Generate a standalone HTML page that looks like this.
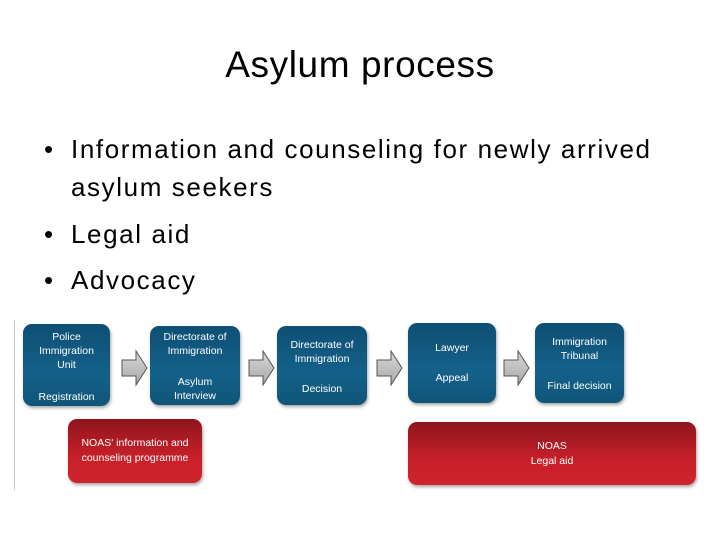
<!DOCTYPE html>
<html><head><style>
body{margin:0;width:720px;height:540px;background:#fff;position:relative;overflow:hidden;font-family:"Liberation Sans",sans-serif}
.t{position:absolute;left:0;width:720px;top:44px;text-align:center;font-size:37px;color:#000;letter-spacing:0.6px}
.b{position:absolute;left:71px;font-size:26px;color:#000;white-space:nowrap;letter-spacing:1.6px}
.dot{position:absolute;left:44px;font-size:26px}
.bx{position:absolute;border-radius:9px;background:linear-gradient(#0e4f74,#14618a 60%,#0f5578);color:#fff;font-size:10.5px;text-align:center;line-height:14px;box-shadow:1px 2px 3px rgba(0,0,0,.35)}
.bx div{position:absolute;left:0;right:0}
.r{position:absolute;border-radius:9px;background:linear-gradient(#8e151d,#c8202a 60%,#d0232c);color:#fff;font-size:10.5px;text-align:center;line-height:15px;box-shadow:1px 2px 3px rgba(0,0,0,.35)}
svg{position:absolute}
</style></head><body>
<div class="t">Asylum process</div>
<div class="dot" style="top:134px">•</div>
<div class="b" style="top:134px">Information and counseling for newly arrived</div>
<div class="b" style="top:172px">asylum seekers</div>
<div class="dot" style="top:219px">•</div>
<div class="b" style="top:219px">Legal aid</div>
<div class="dot" style="top:265px">•</div>
<div class="b" style="top:265px">Advocacy</div>
<div style="position:absolute;left:14px;top:320px;width:1px;height:170px;background:#ccc"></div>

<div class="bx" style="left:23px;top:324px;width:87px;height:82px"><div style="top:6px">Police<br>Immigration<br>Unit</div><div style="top:66px">Registration</div></div>
<div class="bx" style="left:150px;top:326px;width:90px;height:79px"><div style="top:4px">Directorate of<br>Immigration</div><div style="top:49px">Asylum<br>Interview</div></div>
<div class="bx" style="left:277px;top:326px;width:90px;height:79px"><div style="top:12px">Directorate of<br>Immigration</div><div style="top:56px">Decision</div></div>
<div class="bx" style="left:408px;top:323px;width:88px;height:80px"><div style="top:18px">Lawyer</div><div style="top:48px">Appeal</div></div>
<div class="bx" style="left:535px;top:323px;width:89px;height:80px"><div style="top:12px">Immigration<br>Tribunal</div><div style="top:56px">Final decision</div></div>

<div class="r" style="left:68px;top:419px;width:134px;height:64px"><div style="position:absolute;left:0;right:0;top:17px">NOAS' information and<br>counseling programme</div></div>
<div class="r" style="left:408px;top:422px;width:288px;height:63px"><div style="position:absolute;left:0;right:0;top:17px">NOAS<br>Legal aid</div></div>

<svg width="720" height="540" style="left:0;top:0">
<defs><linearGradient id="g" x1="0" y1="0" x2="0" y2="1"><stop offset="0" stop-color="#d8d8d8"/><stop offset="1" stop-color="#a8a8a8"/></linearGradient></defs>
<g fill="url(#g)" stroke="#555" stroke-width="1">
<path d="M122 360h14v-9l11 17-11 17v-9h-14z"/>
<path d="M249 360h14v-9l11 17-11 17v-9h-14z"/>
<path d="M377 360h14v-9l11 17-11 17v-9h-14z"/>
<path d="M504 360h14v-9l11 17-11 17v-9h-14z"/>
</g></svg>
</body></html>
